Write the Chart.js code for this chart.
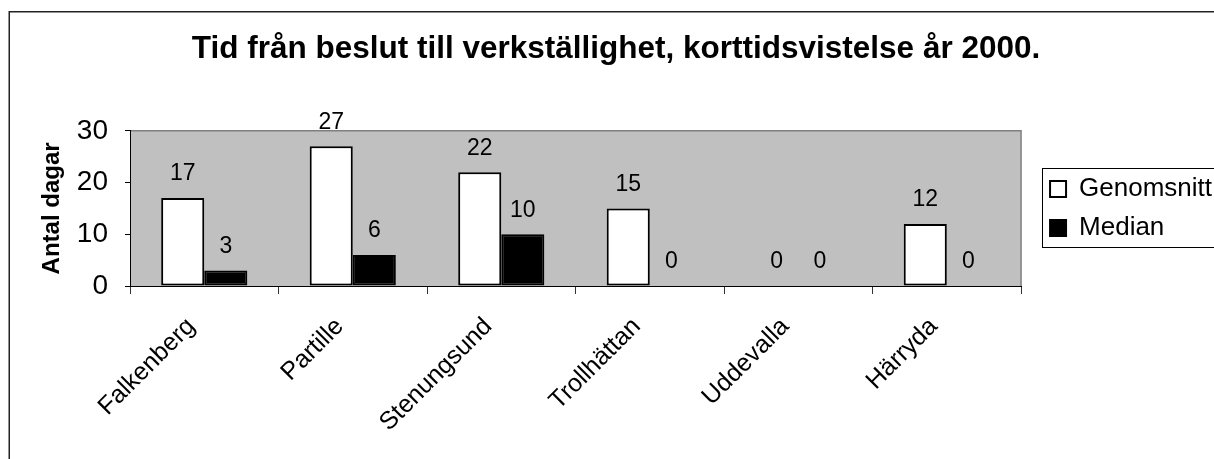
<!DOCTYPE html>
<html>
<head>
<meta charset="utf-8">
<title>Tid från beslut till verkställighet</title>
<script src="https://cdn.jsdelivr.net/npm/chart.js@4/dist/chart.umd.min.js"></script>
<style>
    html, body { margin: 0; padding: 0; background: #fff; overflow: hidden; }
    #wrap { position: relative; width: 1240px; height: 459px; }
</style>
</head>
<body>
<div id="wrap"><canvas id="tidChart" width="1240" height="459"></canvas></div>
<script>
// Chart data
const kommuner = ['Falkenberg', 'Partille', 'Stenungsund', 'Trollhättan', 'Uddevalla', 'Härryda'];
const genomsnitt = [17, 27, 22, 15, 0, 12];
const median = [3, 6, 10, 0, 0, 0];
const yTicks = [0, 10, 20, 30];

const fontFamily = "'Liberation Sans', Arial, sans-serif";
Chart.defaults.font.family = fontFamily;
Chart.defaults.color = '#000';

// Frame, grey plot area and legend border
const framePlugin = {
    id: 'frame',
    beforeDraw(chart) {
        const ctx = chart.ctx;
        const a = chart.chartArea;
        ctx.save();
        ctx.fillStyle = '#fff';
        ctx.fillRect(0, 0, chart.width, chart.height);
        ctx.strokeStyle = '#222';
        ctx.lineWidth = 1.5;
        ctx.strokeRect(9.25, 11.75, 2000, 2000);
        ctx.fillStyle = '#c0c0c0';
        ctx.fillRect(a.left, a.top, a.right - a.left, a.bottom - a.top);
        ctx.strokeStyle = '#808080';
        ctx.lineWidth = 1.5;
        ctx.beginPath();
        ctx.moveTo(a.left, a.top);
        ctx.lineTo(a.right, a.top);
        ctx.lineTo(a.right, a.bottom);
        ctx.stroke();
        ctx.restore();
    },
    afterDraw(chart) {
        const hb = chart.legend && chart.legend.legendHitBoxes;
        if (!hb || !hb.length) return;
        const ctx = chart.ctx;
        const first = hb[0];
        const last = hb[hb.length - 1];
        const left = Math.round(first.left - 8) + 0.5;
        const top = Math.round(first.top - 8) + 0.5;
        const bottom = Math.round(last.top + last.height + 6) + 0.5;
        ctx.save();
        ctx.strokeStyle = '#000';
        ctx.lineWidth = 1;
        ctx.strokeRect(left, top, 400, bottom - top);
        ctx.restore();
    }
};

// Value labels above each bar
const valueLabels = {
    id: 'valueLabels',
    afterDatasetsDraw(chart) {
        const ctx = chart.ctx;
        ctx.save();
        ctx.font = '23px ' + fontFamily;
        ctx.fillStyle = '#000';
        ctx.textAlign = 'center';
        ctx.textBaseline = 'middle';
        chart.data.datasets.forEach((ds, i) => {
            chart.getDatasetMeta(i).data.forEach((bar, j) => {
                ctx.fillText(String(ds.data[j]), bar.x, bar.y - 24);
            });
        });
        ctx.restore();
    }
};

const ctx = document.getElementById('tidChart').getContext('2d');
new Chart(ctx, {
    type: 'bar',
    data: {
        labels: kommuner,
        datasets: [{
            label: 'Genomsnitt',
            data: genomsnitt,
            backgroundColor: '#fff',
            borderColor: '#000',
            borderWidth: 2,
            borderSkipped: false,
            categoryPercentage: 0.58,
            barPercentage: 1.0
        }, {
            label: 'Median',
            data: median,
            backgroundColor: '#000',
            borderColor: '#000',
            borderWidth: 2,
            borderSkipped: false,
            categoryPercentage: 0.58,
            barPercentage: 1.0
        }]
    },
    options: {
        responsive: false,
        animation: false,
        devicePixelRatio: 1,
        layout: { padding: { left: 10, right: 18, top: 0, bottom: 0 } },
        plugins: {
            title: {
                display: true,
                text: 'Tid från beslut till verkställighet, korttidsvistelse år 2000.',
                color: '#000',
                font: { size: 31.5, weight: 'bold' },
                padding: { top: 30, bottom: 63 }
            },
            legend: {
                position: 'right',
                fullSize: false,
                labels: {
                    color: '#000',
                    font: { size: 26 },
                    boxWidth: 16,
                    boxHeight: 16,
                    padding: 13
                }
            },
            tooltip: { enabled: false }
        },
        scales: {
            x: {
                grid: {
                    offset: true,
                    drawOnChartArea: false,
                    tickLength: 8,
                    color: '#333'
                },
                border: { display: true, color: '#000', width: 1 },
                ticks: {
                    font: { size: 25 },
                    color: '#000',
                    minRotation: 45,
                    maxRotation: 45,
                    padding: 18,
                    labelOffset: -13
                },
                afterFit(scale) { scale.height = 173; }
            },
            y: {
                min: yTicks[0],
                max: yTicks[yTicks.length - 1],
                afterBuildTicks(scale) { scale.ticks = yTicks.map(v => ({ value: v })); },
                grid: {
                    drawOnChartArea: false,
                    tickLength: 5,
                    color: '#000'
                },
                border: { display: true, color: '#000', width: 1 },
                ticks: {
                    font: { size: 28 },
                    color: '#000',
                    padding: 17
                },
                title: {
                    display: true,
                    text: 'Antal dagar',
                    color: '#000',
                    font: { size: 24, weight: 'bold' },
                    padding: { top: 28, bottom: 0 }
                },
                afterFit(scale) { scale.width = 120; }
            },
            gap: {
                type: 'linear',
                position: 'right',
                display: true,
                grid: { display: false, drawTicks: false },
                border: { display: false },
                ticks: { display: false },
                afterFit(scale) { scale.width = 16; }
            }
        }
    },
    plugins: [framePlugin, valueLabels]
});
</script>
</body>
</html>
